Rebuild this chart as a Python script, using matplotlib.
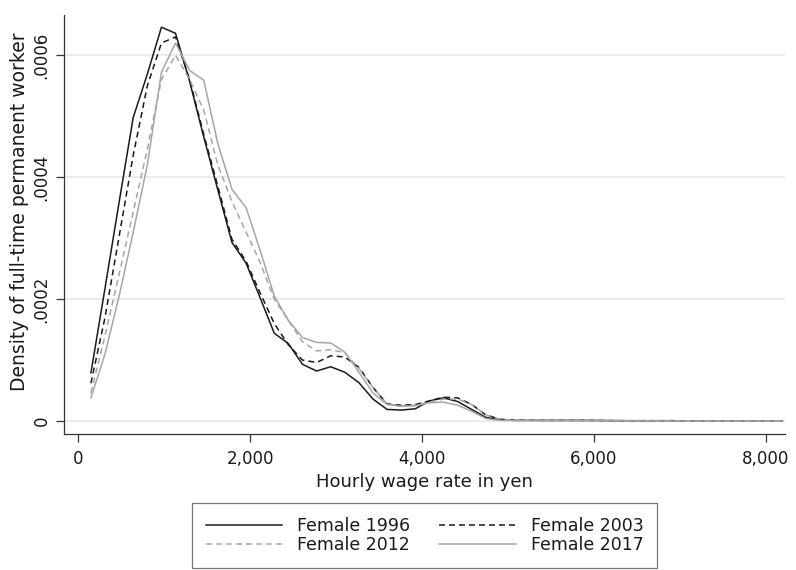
import matplotlib
matplotlib.use("Agg")
import matplotlib.pyplot as plt
from matplotlib.ticker import FuncFormatter

plt.rcParams['font.family'] = ['DejaVu Sans']
plt.rcParams['lines.scale_dashes'] = False

# evaluation grid (yen)
wage = [150, 314, 478, 642, 806, 970, 1134, 1298, 1462, 1626,
        1790, 1954, 2118, 2282, 2446, 2610, 2774, 2938, 3102, 3266,
        3430, 3594, 3758, 3922, 4086, 4250, 4414, 4578, 4742, 4906,
        5070, 5400, 5900, 6400, 6900, 7400, 7900, 8190]

# densities in units of 1e-4
f1996 = [0.79, 2.18, 3.59, 4.98, 5.69, 6.46, 6.36, 5.57, 4.66, 3.79,
         2.93, 2.59, 2.02, 1.44, 1.27, 0.93, 0.82, 0.89, 0.80, 0.63,
         0.36, 0.19, 0.18, 0.20, 0.33, 0.38, 0.32, 0.19, 0.06, 0.02,
         0.01, 0.01, 0.01, 0.005, 0.005, 0.0, 0.0, 0.0]
f2003 = [0.62, 1.70, 3.03, 4.36, 5.50, 6.20, 6.30, 5.60, 4.70, 3.85,
         2.98, 2.62, 2.10, 1.60, 1.25, 1.00, 0.96, 1.07, 1.05, 0.88,
         0.55, 0.28, 0.26, 0.27, 0.33, 0.39, 0.38, 0.27, 0.10, 0.03,
         0.015, 0.01, 0.01, 0.005, 0.005, 0.0, 0.0, 0.0]
f2012 = [0.46, 1.40, 2.41, 3.43, 4.46, 5.60, 6.00, 5.60, 5.10, 4.20,
         3.60, 3.10, 2.60, 2.00, 1.65, 1.30, 1.15, 1.17, 1.12, 0.86,
         0.55, 0.28, 0.25, 0.26, 0.31, 0.36, 0.36, 0.27, 0.10, 0.03,
         0.015, 0.01, 0.01, 0.005, 0.005, 0.0, 0.0, 0.0]
f2017 = [0.38, 1.10, 2.05, 3.10, 4.20, 5.72, 6.20, 5.75, 5.59, 4.55,
         3.80, 3.50, 2.80, 2.05, 1.65, 1.37, 1.29, 1.28, 1.13, 0.80,
         0.46, 0.27, 0.24, 0.25, 0.30, 0.31, 0.26, 0.16, 0.04, 0.01,
         0.01, 0.01, 0.005, 0.005, 0.0, 0.0, 0.0, 0.0]

series = [
    ("Female 1996", f1996, "#1a1a1a", "-"),
    ("Female 2003", f2003, "#1a1a1a", (0, (4.3, 2.9))),
    ("Female 2012", f2012, "#a6a6a6", (0, (4.3, 2.9))),
    ("Female 2017", f2017, "#a6a6a6", "-"),
]

fig = plt.figure(figsize=(7.96, 5.70), dpi=100)
ax = fig.add_axes([64 / 796, 1 - 434 / 570, (785 - 64) / 796, (434 - 15) / 570])

lines = {}
for label, vals, col, ls in series:
    ln, = ax.plot(wage, [v * 1e-4 for v in vals], color=col, linestyle=ls,
                  linewidth=1.1, label=label)
    lines[label] = ln

ax.set_xlim(-163, 8221)
ax.set_ylim(-0.0000213, 0.000666)
ax.set_xticks([0, 2000, 4000, 6000, 8000])
ax.xaxis.set_major_formatter(FuncFormatter(lambda v, p: f"{int(v):,}"))
ax.set_yticks([0, 0.0002, 0.0004, 0.0006])
ax.set_yticklabels(["0", ".0002", ".0004", ".0006"], rotation=90, va="center")
ax.yaxis.grid(True, color="#e6e6e6", linewidth=1.1)
ax.set_axisbelow(True)
for s in ["top", "right"]:
    ax.spines[s].set_visible(False)
for s in ["left", "bottom"]:
    ax.spines[s].set_color("#333333")
    ax.spines[s].set_linewidth(0.9)
ax.tick_params(length=5.8, width=0.9, color="#333333", labelsize=12,
               labelcolor="#1a1a1a")
ax.tick_params(axis="x", pad=6)
ax.tick_params(axis="y", pad=4)
ax.set_xlabel("Hourly wage rate in yen", fontsize=13, color="#1a1a1a", labelpad=3)
ax.set_ylabel("Density of full-time permanent worker", fontsize=13.5,
              color="#1a1a1a")
ax.yaxis.set_label_coords(-0.049, 0.53)

# row-wise order: 1996, 2003 / 2012, 2017
order = ["Female 1996", "Female 2012", "Female 2003", "Female 2017"]
leg = fig.legend([lines[k] for k in order], order,
                 loc="upper center", bbox_to_anchor=(424.5 / 796, 1 - 503 / 570),
                 borderaxespad=0, ncol=2, fontsize=12.5, handlelength=4.4,
                 handletextpad=0.85, columnspacing=1.7, labelspacing=0.05,
                 borderpad=0.8, fancybox=False, frameon=True)
leg.get_frame().set_edgecolor("#555555")
leg.get_frame().set_linewidth(0.9)
for t in leg.get_texts():
    t.set_color("#1a1a1a")

fig.savefig("out.png", dpi=100)
